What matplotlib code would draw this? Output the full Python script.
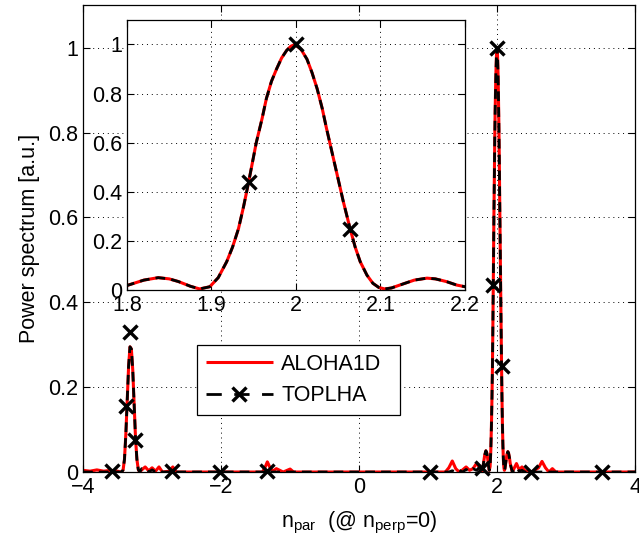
import matplotlib
matplotlib.use('Agg')
import matplotlib.pyplot as plt
from matplotlib.lines import Line2D

plt.rcParams['font.family'] = ['Liberation Sans', 'DejaVu Sans']
plt.rcParams['mathtext.fontset'] = 'custom'
plt.rcParams['mathtext.rm'] = 'Liberation Sans'
plt.rcParams['font.size'] = 15.5

# n_par grid (denser around the peaks)
n_par = [-4.0, -3.9, -3.8, -3.7, -3.6, -3.5, -3.46, -3.44, -3.42, -3.40, -3.38, -3.36,
         -3.34, -3.32, -3.30, -3.28, -3.26, -3.24, -3.22, -3.20, -3.18, -3.15,
         -3.1, -3.05, -3.0, -2.95, -2.9, -2.85, -2.75, -2.7, -2.65, -2.4, -2.0,
         -1.6, -1.4, -1.36, -1.33, -1.29, -1.25, -1.2, -1.1, -1.0, -0.95, -0.9,
         0.0, 1.0, 1.25, 1.3, 1.35, 1.4, 1.45, 1.5, 1.55, 1.6, 1.65, 1.7, 1.75, 1.78,
         1.80, 1.82, 1.837, 1.85, 1.861, 1.875, 1.886, 1.898, 1.908, 1.918, 1.925,
         1.932, 1.938, 1.944, 1.953, 1.96, 1.965, 1.971, 1.977, 1.983, 1.989,
         1.994, 1.999, 2.006, 2.013, 2.019, 2.025, 2.031, 2.036, 2.042, 2.048,
         2.056, 2.064, 2.07, 2.076, 2.084, 2.091, 2.098, 2.105, 2.113, 2.123,
         2.14, 2.155, 2.165, 2.178, 2.19, 2.20, 2.22, 2.25, 2.28, 2.32, 2.36,
         2.4, 2.5, 2.6, 2.65, 2.7, 2.75, 2.8, 2.85, 3.0, 4.0]

aloha1d = [0.004, 0.002, 0.005, 0.002, 0.004, 0.002, 0.0, 0.0, 0.005, 0.03, 0.09, 0.17,
           0.25, 0.295, 0.29, 0.24, 0.16, 0.08, 0.03, 0.006, 0.0, 0.005,
           0.012, 0.003, 0.01, 0.002, 0.012, 0.0, 0.002, 0.012, 0.0, 0.0, 0.0,
           0.0, 0.0, 0.012, 0.024, 0.01, 0.002, 0.008, 0.0, 0.007, 0.0, 0.0,
           0.0, 0.0, 0.0, 0.01, 0.026, 0.008, 0.0, 0.005, 0.012, 0.004, 0.008, 0.02, 0.01, 0.0,
           0.018, 0.04, 0.05, 0.045, 0.034, 0.015, 0.004, 0.013, 0.05, 0.115, 0.175,
           0.25, 0.34, 0.44, 0.60, 0.70, 0.78, 0.85, 0.90, 0.945, 0.976,
           0.993, 1.0, 0.98, 0.94, 0.885, 0.82, 0.74, 0.66, 0.57, 0.48,
           0.36, 0.25, 0.175, 0.115, 0.06, 0.027, 0.01, 0.004, 0.008, 0.02,
           0.04, 0.048, 0.045, 0.034, 0.02, 0.013, 0.0, 0.01, 0.02, 0.005, 0.012,
           0.003, 0.0, 0.01, 0.025, 0.01, 0.0, 0.008, 0.0, 0.0, 0.0]

toplha_line = [0.0, 0.0, 0.0, 0.0, 0.0, 0.0, 0.0, 0.0, 0.005, 0.03, 0.09, 0.17,
               0.25, 0.295, 0.29, 0.24, 0.16, 0.08, 0.03, 0.006, 0.0, 0.008,
               0.004, 0.0, 0.005, 0.0, 0.004, 0.0, 0.0, 0.003, 0.0, 0.0, 0.0,
               0.0, 0.0, 0.0, 0.004, 0.0, 0.0, 0.0, 0.0, 0.0, 0.0, 0.0,
               0.0, 0.0, 0.0, 0.0, 0.003, 0.0, 0.004, 0.0, 0.006, 0.002, 0.008, 0.004, 0.012, 0.0,
               0.018, 0.04, 0.05, 0.045, 0.034, 0.015, 0.004, 0.013, 0.05, 0.115, 0.175,
               0.25, 0.34, 0.44, 0.60, 0.70, 0.78, 0.85, 0.90, 0.945, 0.976,
               0.993, 1.0, 0.98, 0.94, 0.885, 0.82, 0.74, 0.66, 0.57, 0.48,
               0.36, 0.25, 0.175, 0.115, 0.06, 0.027, 0.01, 0.004, 0.008, 0.02,
               0.04, 0.048, 0.045, 0.034, 0.02, 0.013, 0.0, 0.006, 0.01, 0.002, 0.004,
               0.0, 0.0, 0.0, 0.0, 0.0, 0.0, 0.0, 0.0, 0.0, 0.0]

# TOPLHA sample points (markers)
toplha_n = [-3.585, -3.38, -3.32, -3.25, -2.715, -2.01, -1.34, 1.03, 1.78,
            1.944, 2.0, 2.064, 2.49, 3.52]
toplha_p = [0.003, 0.155, 0.33, 0.075, 0.003, 0.0, 0.003, 0.0, 0.01,
            0.44, 1.0, 0.25, 0.0, 0.0]

red_kw = dict(color='red', lw=2.2, solid_capstyle='butt')
blk_kw = dict(color='black', lw=2.0, ls=(0, (3.5, 2.2)))
mk_kw = dict(ls='none', marker='x', color='black', ms=9.5, mew=2.4)


def matlab_axes(ax):
    ax.grid(True, ls=(0, (1, 4)), color='black', lw=0.7)
    ax.tick_params(direction='in', top=True, right=True, length=5, width=0.8)
    for s in ax.spines.values():
        s.set_linewidth(0.9)


fig = plt.figure(figsize=(6.39, 5.46), dpi=100)
ax = fig.add_axes([0.130, 0.1355, 0.864, 0.855])

ax.plot(n_par, aloha1d, **red_kw)
ax.plot(n_par, toplha_line, **blk_kw)
ax.plot(toplha_n, toplha_p, clip_on=False, **mk_kw)

ax.set_xlim(-4, 4)
ax.set_ylim(0, 1.1)
ax.set_xticks([-4, -2, 0, 2, 4])
ax.set_xticklabels(['\u22124', '\u22122', '0', '2', '4'])
ax.set_yticks([0, 0.2, 0.4, 0.6, 0.8, 1.0])
ax.set_yticklabels(['0', '0.2', '0.4', '0.6', '0.8', '1'])
matlab_axes(ax)
ax.set_ylabel('Power spectrum [a.u.]', labelpad=6)
ax.set_xlabel(r'$\mathregular{n_{par}}$  (@ $\mathregular{n_{perp}}$=0)', labelpad=9)

handles = [Line2D([], [], **red_kw),
           Line2D([], [], color='black', lw=2.0, ls=(0, (5.5, 4.5)),
                  marker='x', ms=9.5, mew=2.4)]
leg = ax.legend(handles, ['ALOHA1D', 'TOPLHA'], loc='lower left',
                bbox_to_anchor=(0.207, 0.122, 0.367, 0.154), mode='expand',
                fancybox=False, framealpha=1, edgecolor='black',
                handlelength=3.1, handletextpad=0.4, borderaxespad=0,
                fontsize=15.5)
leg.get_frame().set_linewidth(0.9)

# zoom on the main lobe
axin = fig.add_axes([0.1987, 0.469, 0.529, 0.4945])
axin.plot(n_par, aloha1d, **red_kw)
axin.plot(n_par, toplha_line, **blk_kw)
axin.plot(toplha_n, toplha_p, **mk_kw)
axin.set_xlim(1.8, 2.2)
axin.set_ylim(0, 1.1)
axin.set_xticks([1.8, 1.9, 2.0, 2.1, 2.2])
axin.set_xticklabels(['1.8', '1.9', '2', '2.1', '2.2'])
axin.set_yticks([0, 0.2, 0.4, 0.6, 0.8, 1.0])
axin.set_yticklabels(['0', '0.2', '0.4', '0.6', '0.8', '1'])
matlab_axes(axin)

fig.savefig('out.png', dpi=100)
